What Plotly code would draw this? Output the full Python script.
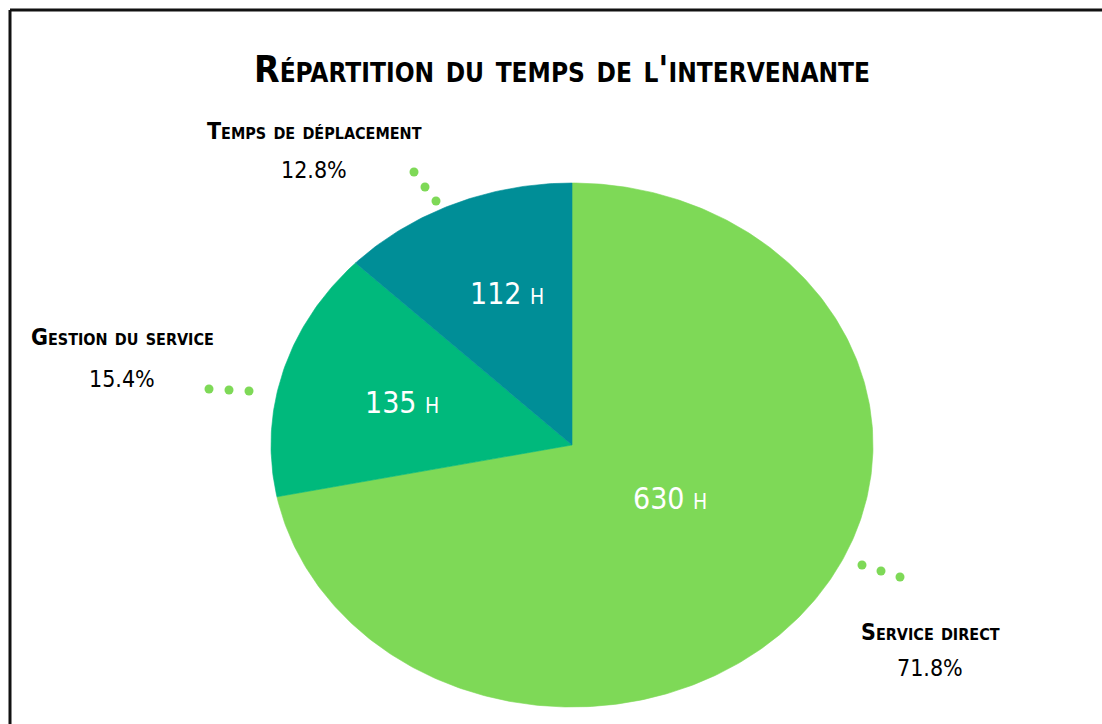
import numpy as np
import plotly.graph_objects as go

# ---- data ----
categories = ["Service direct", "Gestion du service", "Temps de déplacement"]
hours = [630, 135, 112]
colors = ["#7ed957", "#00b97c", "#008e97"]
title_text = "Répartition du temps de l'intervenante"

# ---- layout constants (pixel space) ----
W, H = 1102, 724
cx, cy, rx, ry = 572, 445, 301, 262
inside_pos = [(670, 498), (402, 402), (507, 293)]
label_pos = [(930, 632, 668), (122, 337, 379), (314, 131, 170)]
dot_pos = [
    [(862, 565), (881, 571), (900, 577)],
    [(209, 389), (229, 390), (249, 391)],
    [(414, 172), (425, 187), (436, 201)],
]

FONT = "Liberation Sans Narrow, DejaVu Sans Condensed, sans-serif"

total = sum(hours)
fig = go.Figure()
start = 0.0
for cat, h, col in zip(categories, hours, colors):
    frac = h / total
    th = np.linspace(start, start + frac, max(int(frac * 500), 3)) * 2 * np.pi
    xs = [cx] + list(cx + rx * np.sin(th)) + [cx]
    ys = [cy] + list(cy - ry * np.cos(th)) + [cy]
    fig.add_trace(go.Scatter(
        x=xs, y=ys, fill="toself", fillcolor=col, mode="lines",
        line=dict(width=0.6, color=col), name=cat, showlegend=False,
        hoverinfo="skip",
    ))
    start += frac

# decorative leader dots
for dots in dot_pos:
    fig.add_trace(go.Scatter(
        x=[d[0] for d in dots], y=[d[1] for d in dots], mode="markers",
        marker=dict(size=9, color="#7ed957"), showlegend=False, hoverinfo="skip",
    ))

annotations = []
annotations.append(dict(
    x=W / 2 + 11, y=69, text=f"<b>{title_text}</b>", showarrow=False,
    font=dict(family=FONT, size=37, color="#000", variant="small-caps"),
    xanchor="center", yanchor="middle",
))
for cat, h, (ix, iy), (lx, ly1, ly2) in zip(categories, hours, inside_pos, label_pos):
    annotations.append(dict(
        x=ix, y=iy, text=f"{h} h", showarrow=False,
        font=dict(family=FONT, size=30, color="white", variant="small-caps"),
        xanchor="center", yanchor="middle",
    ))
    annotations.append(dict(
        x=lx, y=ly1, text=f"<b>{cat}</b>", showarrow=False,
        font=dict(family=FONT, size=23, color="#000", variant="small-caps"),
        xanchor="center", yanchor="middle",
    ))
    annotations.append(dict(
        x=lx, y=ly2, text=f"{h / total * 100:.1f}%", showarrow=False,
        font=dict(family=FONT, size=23, color="#000"),
        xanchor="center", yanchor="middle",
    ))

fig.update_layout(
    width=W, height=H,
    margin=dict(l=0, r=0, t=0, b=0),
    paper_bgcolor="white", plot_bgcolor="white",
    xaxis=dict(range=[0, W], visible=False, fixedrange=True),
    yaxis=dict(range=[H, 0], visible=False, fixedrange=True),
    annotations=annotations,
    shapes=[
        dict(type="line", xref="x", yref="y", x0=10, y0=10, x1=W + 5, y1=10,
             line=dict(color="#111", width=3)),
        dict(type="line", xref="x", yref="y", x0=10, y0=10, x1=10, y1=H + 5,
             line=dict(color="#111", width=3)),
    ],
)

fig.write_html("out.html", config={"displayModeBar": False},
               post_script="document.body.style.margin='0';")
